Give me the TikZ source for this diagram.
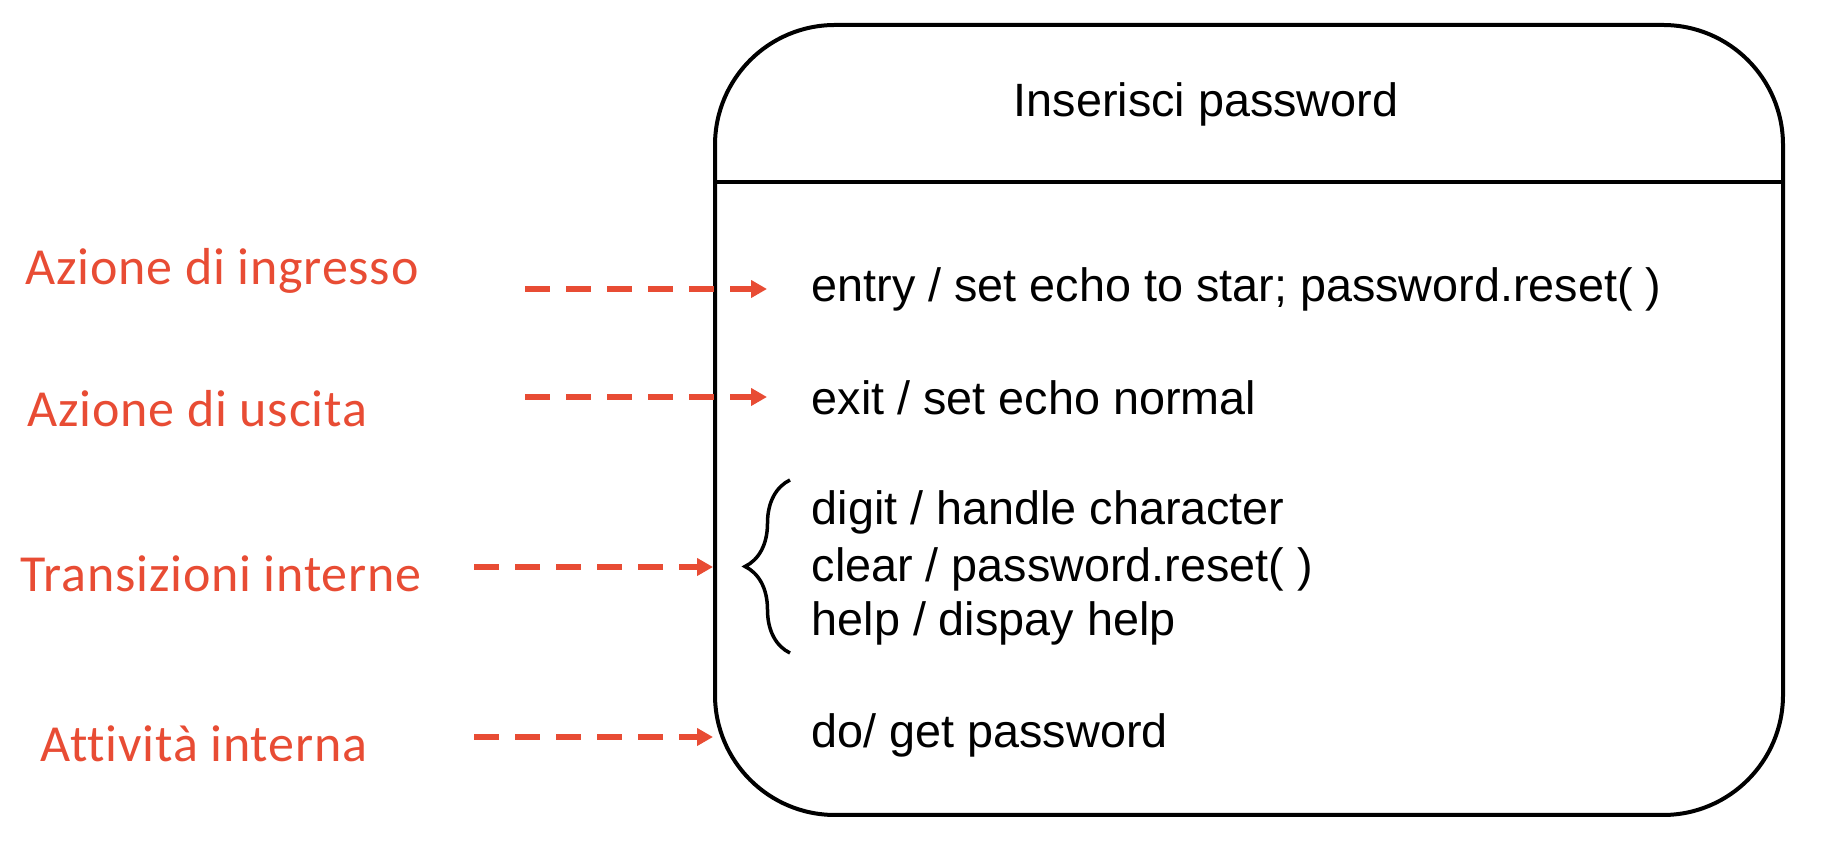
\documentclass[tikz,border=0pt]{standalone}
\usepackage{fontspec}
\usepackage{xcolor}
\usepackage{tikz}
\usetikzlibrary{arrows.meta, positioning, decorations.pathreplacing}
\setmainfont{Liberation Sans}
\newfontfamily\labelfont[Ligatures=NoCommon, LetterSpace=1.5]{Carlito}
\definecolor{LabelRed}{RGB}{232,76,52}

\begin{document}
\begin{tikzpicture}[>={Triangle[length=1.6mm,width=1.7mm]},
  state style/.style={
    draw=black,
    line width=0.04cm,
    rectangle,
    rounded corners=1.2cm,
    minimum width=10.68cm,
    minimum height=7.9cm,
  },
  action style/.style={
    text=black,
    font=\fontsize{13.3}{16}\selectfont,
    anchor=base west,
    inner sep=0pt,
  },
  label style/.style={
    text=LabelRed,
    font=\labelfont\fontsize{14.8}{18}\selectfont,
    anchor=base west,
    inner sep=0pt,
  },
  pointer/.style={
    ->,
    LabelRed,
    line width=0.06cm,
    dash pattern=on 0.25cm off 0.16cm,
  }
]
\useasboundingbox (0,0) rectangle (18.24,-8.44);

% the state
\node[state style] (state) at (12.49,-4.20) {};
\draw[line width=0.04cm] (state.west |- 0,-1.82) -- (state.east |- 0,-1.82);
\node[action style, anchor=base] (title) at (12.06,-1.17) {Inserisci password};

% actions inside the state
\node[action style] (tEntry) at (8.11,-3.02) {entry / set echo to star; password.reset( )};
\node[action style] (tExit) at (8.11,-4.15) {exit / set echo normal};
\node[action style] (tDigit) at (8.11,-5.25) {digit / handle character};
\node[action style] (tClear) at (8.11,-5.82) {clear / password.reset( )};
\node[action style] (tHelp) at (8.11,-6.36) {help / dispay help};
\node[action style] (tDo) at (8.11,-7.48) {do/ get password};

\draw[line width=0.035cm, decorate, decoration={brace, amplitude=0.45cm}]
  (7.90,-6.53) -- (7.90,-4.80);

% labels on the left
\node[label style] (lblIn) at (0.25,-2.85) {Azione di ingresso};
\node[label style] (lblOut) at (0.27,-4.27) {Azione di uscita};
\node[label style] (lblTr) at (0.20,-5.92) {Transizioni interne};
\node[label style] (lblAt) at (0.40,-7.62) {Attività interna};

\coordinate (inStart) at (5.25,-2.89);
\coordinate (outStart) at (5.25,-3.97);
\coordinate (trStart) at (4.74,-5.67);
\coordinate (atStart) at (4.74,-7.37);

\draw[pointer, shorten >=0.44cm] (inStart) -- (inStart -| tEntry.west);
\draw[pointer, shorten >=0.44cm] (outStart) -- (outStart -| tExit.west);
\draw[pointer] (trStart) -- (trStart -| state.west);
\draw[pointer] (atStart) -- (atStart -| state.west);

\end{tikzpicture}
\end{document}
